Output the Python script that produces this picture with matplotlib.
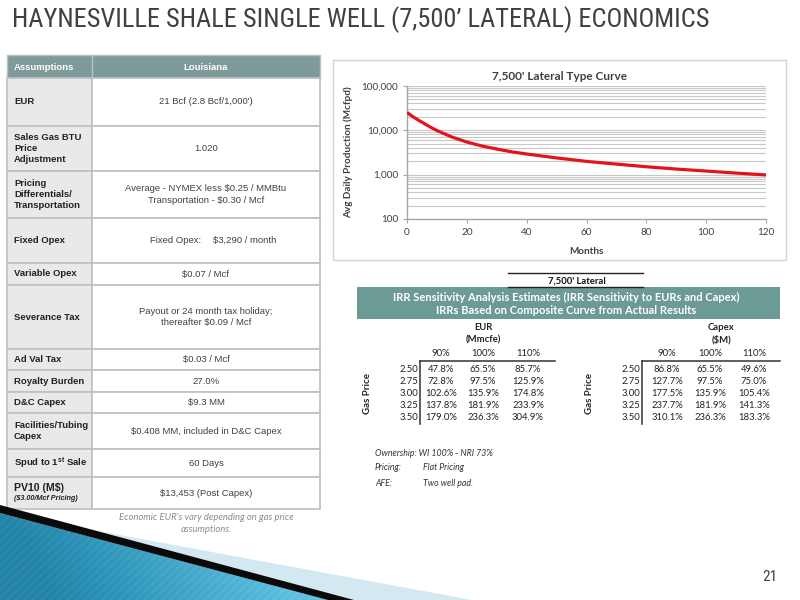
import matplotlib
matplotlib.use("Agg")
import matplotlib.pyplot as plt
from matplotlib import font_manager
from matplotlib.patches import Rectangle, Polygon
from matplotlib.ticker import FixedLocator, LogLocator, NullFormatter
import numpy as np

# ---------------- data ----------------
title = "HAYNESVILLE SHALE SINGLE WELL (7,500\u2019 LATERAL) ECONOMICS"

assump_labels = ["EUR", "Sales Gas BTU\nPrice\nAdjustment", "Pricing\nDifferentials/\nTransportation",
                 "Fixed Opex", "Variable Opex", "Severance Tax", "Ad Val Tax", "Royalty Burden",
                 "D&C Capex", "Facilities/Tubing\nCapex", r"Spud to 1$^{\mathbf{st}}$ Sale", "PV10 (M$)"]
assump_values = ["21 Bcf (2.8 Bcf/1,000')", "1.020",
                 "Average - NYMEX less $0.25 / MMBtu\nTransportation - $0.30 / Mcf",
                 None, "$0.07 / Mcf", "Payout or 24 month tax holiday;\nthereafter $0.09 / Mcf",
                 "$0.03 / Mcf", "27.0%", "$9.3 MM", "$0.408 MM, included in D&C Capex",
                 "60 Days", "$13,453 (Post Capex)"]
fixed_opex_parts = ["Fixed Opex:", "$3,290 / month"]
pv10_note = "($3.00/Mcf Pricing)"

months = [0, 2, 4, 6, 8, 10, 15, 20, 25, 30, 35, 40, 50, 60, 70, 80, 90, 100, 110, 120]
production = [25000, 20000, 16500, 13800, 11500, 9800, 7000, 5400, 4400, 3750, 3250, 2900,
              2370, 1980, 1720, 1500, 1330, 1200, 1080, 980]
y_ticks = [100, 1000, 10000, 100000]
x_ticks = [0, 20, 40, 60, 80, 100, 120]

gas_prices = ["2.50", "2.75", "3.00", "3.25", "3.50"]
sens_cols = ["90%", "100%", "110%"]
eur_irr = [[47.8, 65.5, 85.7],
           [72.8, 97.5, 125.9],
           [102.6, 135.9, 174.8],
           [137.8, 181.9, 233.9],
           [179.0, 236.3, 304.9]]
capex_irr = [[86.8, 65.5, 49.6],
             [127.7, 97.5, 75.0],
             [177.5, 135.9, 105.4],
             [237.7, 181.9, 141.3],
             [310.1, 236.3, 183.3]]
notes = [("Ownership: WI 100% - NRI 73%", None), ("Pricing:", "Flat Pricing"), ("AFE:", "Two well pad.")]

# ---------------- fonts ----------------
avail = {f.name for f in font_manager.fontManager.ttflist}
def pick(*names):
    for n in names:
        if n in avail:
            return n
    return "DejaVu Sans"
F_TITLE = pick("Liberation Sans Narrow", "Roboto Condensed", "Liberation Sans")
F_ARIAL = pick("Liberation Sans", "Arimo", "DejaVu Sans")
F_CAL = pick("Lato", "Open Sans", "Liberation Sans")

plt.rcParams['text.parse_math'] = False
plt.rcParams['mathtext.fontset'] = 'custom'
plt.rcParams['mathtext.rm'] = F_ARIAL
plt.rcParams['mathtext.bf'] = F_ARIAL + ':bold'

DARK = "#404040"
GRID = "#c8c8c8"
HEAD = "#7d9b9b"
BANNER = "#6c9a95"

fig = plt.figure(figsize=(8, 6), dpi=100)
bg = fig.add_axes([0, 0, 1, 1])
bg.set_xlim(0, 800)
bg.set_ylim(600, 0)
bg.axis("off")

# ---------------- decoration bottom-left ----------------
bg.add_patch(Polygon([(0, 511), (60, 524), (472, 600), (0, 600)], closed=True, fc="#d3e8f0", ec="none", zorder=1))
bg.add_patch(Polygon([(0, 505), (354, 600), (328, 600), (0, 513)], closed=True, fc="#0a0a0a", ec="none", zorder=3))
teal = Polygon([(0, 513), (328, 600), (0, 600)], closed=True, fc="none", ec="none", zorder=2)
bg.add_patch(teal)
gx, gy = np.meshgrid(np.linspace(0, 1, 200), np.linspace(0, 1, 60))
grad = 0.35 + 0.65 * np.clip(gx * 1.3 - gy * 0.2, 0, 1) + 0.05 * np.sin((gx * 200 + gy * 60) * 1.2)
im = bg.imshow(grad, extent=[0, 330, 600, 505], cmap=matplotlib.colors.LinearSegmentedColormap.from_list(
    "t", ["#126582", "#2e93b8", "#62c3e2"]), vmin=0, vmax=1, zorder=2, aspect="auto", interpolation="bilinear")
im.set_clip_path(teal)
bg.set_xlim(0, 800)
bg.set_ylim(600, 0)

# ---------------- title ----------------
bg.text(12, 20, title, fontsize=19, family=F_TITLE, color=DARK, va="center", ha="left")

# ---------------- assumptions table ----------------
tx0, tx1, tx2 = 7, 92, 320
row_edges = [55, 78, 126, 171, 218, 263, 285, 349, 370, 392, 413, 449, 477, 509]
bg.add_patch(Rectangle((tx0, row_edges[0]), tx2 - tx0, row_edges[1] - row_edges[0], fc=HEAD, ec="#bfbfbf", lw=1.0, zorder=2))
bg.plot([tx1, tx1], [row_edges[0], row_edges[1]], color="#bfbfbf", lw=1.0, zorder=3)
bg.text(14, 67, "Assumptions", fontsize=6.8, family=F_ARIAL, weight="bold", color="white", va="center")
bg.text((tx1 + tx2) / 2, 67, "Louisiana", fontsize=6.8, family=F_ARIAL, weight="bold", color="white", va="center", ha="center")
for i, (lab, val) in enumerate(zip(assump_labels, assump_values)):
    y0, y1 = row_edges[i + 1], row_edges[i + 2]
    yc = (y0 + y1) / 2
    bg.add_patch(Rectangle((tx0, y0), tx1 - tx0, y1 - y0, fc="#e9e9e9", ec="#bfbfbf", lw=1.2, zorder=2))
    bg.add_patch(Rectangle((tx1, y0), tx2 - tx1, y1 - y0, fc="white", ec="#bfbfbf", lw=1.2, zorder=2))
    if lab.startswith("PV10"):
        bg.text(14, yc - 5, lab, fontsize=7.6, family=F_ARIAL, weight="bold", color="#222222", va="center")
        bg.text(14, yc + 6, pv10_note, fontsize=5.2, family=F_ARIAL, weight="bold", style="italic", color="#222222", va="center")
    else:
        bg.text(14, yc, lab, fontsize=6.8, family=F_ARIAL, weight="bold", color="#222222", va="center",
                linespacing=1.25, parse_math=("$^" in lab))
    if val is None:
        bg.text(150, yc, fixed_opex_parts[0], fontsize=6.8, family=F_ARIAL, color=DARK, va="center")
        bg.text(213, yc, fixed_opex_parts[1], fontsize=6.8, family=F_ARIAL, color=DARK, va="center")
    else:
        bg.text((tx1 + tx2) / 2, yc, val, fontsize=6.8, family=F_ARIAL, color=DARK, va="center", ha="center",
                linespacing=1.35, multialignment="center")
bg.text(206, 517, "Economic EUR's vary depending on gas price", fontsize=6.8, family=F_CAL, style="italic",
        color="#8c8c8c", ha="center", va="center")
bg.text(206, 529, "assumptions.", fontsize=6.8, family=F_CAL, style="italic", color="#8c8c8c", ha="center", va="center")

# ---------------- type curve chart ----------------
bg.add_patch(Rectangle((333, 60), 453, 200, fc="white", ec="#d4d4d4", lw=1.0, zorder=1))
px0, px1, py0, py1 = 407, 766, 85.7, 219
ax = fig.add_axes([px0 / 800, 1 - py1 / 600, (px1 - px0) / 800, (py1 - py0) / 600])
ax.set_yscale("log")
ax.plot(months, production, color="#e3121c", lw=2.3, zorder=3, solid_capstyle="butt")
ax.set_xlim(0, 120)
ax.set_ylim(100, 100000)
ax.set_xticks(x_ticks)
ax.yaxis.set_major_locator(FixedLocator(y_ticks))
ax.set_yticklabels([f"{v:,}" for v in y_ticks])
ax.yaxis.set_minor_locator(LogLocator(base=10, subs=np.arange(2, 10)))
ax.yaxis.set_minor_formatter(NullFormatter())
ax.grid(True, which="both", axis="y", color=GRID, lw=0.8)
ax.set_axisbelow(True)
for s in ["top", "right"]:
    ax.spines[s].set_visible(False)
for s in ["left", "bottom"]:
    ax.spines[s].set_color("#a6a6a6")
    ax.spines[s].set_linewidth(1.0)
ax.tick_params(axis="both", which="major", labelsize=7.2, colors="#a6a6a6", labelcolor=DARK, length=3, width=0.8)
ax.tick_params(axis="y", which="minor", length=0)
for t in ax.get_xticklabels() + ax.get_yticklabels():
    t.set_family(F_CAL)
ax.set_xlabel("Months", fontsize=7.2, family=F_CAL, weight="bold", color=DARK, labelpad=7)
ax.set_ylabel("Avg Daily Production (Mcfpd)", fontsize=7.2, family=F_CAL, weight="bold", color=DARK, labelpad=6)
bg.text(559, 77, "7,500' Lateral Type Curve", fontsize=8.5, family=F_CAL, weight="bold", color=DARK,
        ha="center", va="center")

# ---------------- IRR sensitivity ----------------
bg.plot([508, 643], [273, 273], color="#222222", lw=1.0)
bg.plot([508, 643], [287, 287], color="#222222", lw=1.0)
bg.text(577, 281, "7,500' Lateral", fontsize=6.8, family=F_CAL, weight="bold", color="#111111", ha="center", va="center")
bg.add_patch(Rectangle((357, 287), 423, 32, fc=BANNER, ec="none", zorder=1))
bg.text(566, 297, "IRR Sensitivity Analysis Estimates (IRR Sensitivity to EURs and Capex)", fontsize=8,
        family=F_CAL, weight="bold", color="white", ha="center", va="center")
bg.text(566, 311, "IRRs Based on Composite Curve from Actual Results", fontsize=8,
        family=F_CAL, weight="bold", color="white", ha="center", va="center")

row_y = [369, 381, 393, 405, 417]

def sens_table(vx, col_x, right, head1, head2, hx, label_x, data):
    bg.text(hx, 327, head1, fontsize=6.8, family=F_CAL, weight="bold", color="#222222", ha="center", va="center")
    bg.text(hx, 340, head2, fontsize=6.8, family=F_CAL, weight="bold", color="#222222", ha="center", va="center")
    for c, cx in zip(sens_cols, col_x):
        bg.text(cx, 354, c, fontsize=6.8, family=F_CAL, color="#222222", ha="center", va="center")
    bg.plot([vx, right], [361, 361], color="#333333", lw=1.1)
    bg.plot([vx, vx], [361, 424], color="#333333", lw=1.1)
    for r, (gp, ry) in enumerate(zip(gas_prices, row_y)):
        bg.text(vx - 1.5, ry, gp, fontsize=6.8, family=F_CAL, color="#222222", ha="right", va="center")
        for cx, v in zip(col_x, data[r]):
            bg.text(cx, ry, f"{v:.1f}%", fontsize=6.8, family=F_CAL, color="#222222", ha="center", va="center")
    bg.text(label_x, 393, "Gas Price", fontsize=7, family=F_CAL, weight="bold", color="#222222",
            rotation=90, ha="center", va="center")

sens_table(420, [441, 483, 528], 555, "EUR", "(Mmcfe)", 483, 367, eur_irr)
sens_table(642, [667, 710, 754], 780, "Capex", "($M)", 721, 590, capex_irr)

for i, (k, v) in enumerate(notes):
    yy = 453 + 15 * i
    bg.text(375, yy, k, fontsize=6.3, family=F_CAL, style="italic", color="#333333", va="center")
    if v is not None:
        bg.text(423, yy, v, fontsize=6.3, family=F_CAL, style="italic", color="#333333", va="center")

bg.text(770, 577, "21", fontsize=11, family=F_TITLE, color=DARK, ha="center", va="center")

fig.savefig("out.png", dpi=100)
